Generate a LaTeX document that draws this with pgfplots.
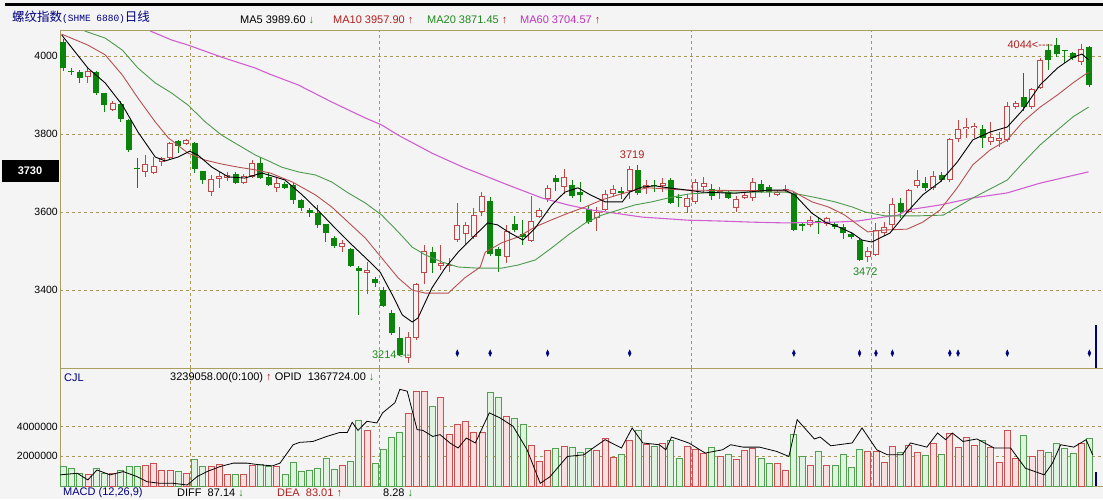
\documentclass[border=0pt]{standalone}
\usepackage{pgfplots}
\pgfplotsset{compat=1.18}
\usepackage{pgfplotstable}
\usepackage{fontspec}
\setmainfont{Liberation Sans}
\newfontfamily\cjk{Noto Sans CJK SC}
\newfontfamily\mono{Liberation Mono}

\definecolor{bgc}{HTML}{F4F4F4}
\definecolor{frame}{HTML}{A8A060}
\definecolor{gridc}{HTML}{A89858}
\definecolor{upred}{HTML}{C04848}
\definecolor{dngreen}{HTML}{0B840B}
\definecolor{vred}{HTML}{C85050}
\definecolor{vredf}{HTML}{F9E0E0}
\definecolor{vgreen}{HTML}{50A050}
\definecolor{vgreenf}{HTML}{E0F2E0}
\definecolor{maten}{HTML}{B85050}
\definecolor{matwenty}{HTML}{4C9A4C}
\definecolor{masixty}{HTML}{D060D0}
\definecolor{navy}{HTML}{000080}
\definecolor{txtred}{HTML}{B02020}
\definecolor{txtgreen}{HTML}{208A20}
\definecolor{txtmag}{HTML}{C030C0}

% up candles: i open high low close volume(M)
\pgfplotstableread{
i o h l c v
3 3945 3968 3930 3962 0.75
6 3862 3884 3860 3879 0.86
10 3703 3746 3690 3722 1.38
11 3701 3741 3697 3718 1.54
12 3729 3741 3718 3738 1.08
13 3738 3779 3736 3776 1.08
15 3775 3788 3772 3785 0.86
18 3650 3695 3642 3685 1.31
19 3685 3703 3662 3693 1.46
20 3688 3703 3680 3695 0.75
22 3674 3698 3672 3693 0.75
23 3691 3733 3687 3725 1.38
26 3662 3691 3651 3674 1.31
34 3509 3528 3498 3520 1.42
37 3443 3471 3389 3451 3.73
42 3225 3293 3214 3280 4.86
43 3276 3418 3272 3415 6.35
44 3443 3515 3415 3500 6.40
46 3462 3515 3452 3468 5.94
47 3462 3482 3447 3465 3.46
48 3528 3622 3524 3567 4.18
49 3543 3575 3515 3567 4.32
50 3537 3610 3532 3592 3.64
51 3599 3651 3590 3642 3.64
54 3485 3567 3468 3551 4.70
57 3526 3642 3524 3577 2.73
58 3588 3610 3584 3605 1.65
59 3633 3669 3626 3662 2.37
61 3665 3710 3647 3691 2.67
65 3584 3613 3551 3601 2.37
66 3605 3656 3603 3647 3.23
67 3645 3669 3641 3659 1.92
69 3654 3719 3633 3710 3.05
71 3662 3682 3645 3669 2.78
73 3667 3687 3650 3674 2.89
76 3614 3646 3597 3635 2.67
77 3626 3685 3621 3676 2.44
78 3665 3690 3650 3674 2.21
80 3653 3664 3633 3655 1.99
82 3611 3641 3601 3633 1.76
83 3637 3651 3633 3644 2.37
84 3635 3687 3629 3678 2.51
87 3644 3656 3642 3652 1.54
88 3657 3669 3652 3659 1.08
91 3567 3590 3562 3580 1.42
93 3568 3587 3564 3584 1.38
98 3484 3510 3472 3500 2.33
99 3490 3571 3487 3554 2.33
100 3545 3575 3538 3562 1.60
101 3567 3636 3554 3620 2.67
103 3599 3660 3597 3656 2.73
104 3667 3708 3661 3682 2.28
106 3662 3705 3656 3693 2.89
108 3682 3790 3677 3787 3.57
109 3787 3836 3779 3813 2.60
110 3813 3840 3790 3819 3.28
111 3815 3827 3790 3821 2.73
113 3779 3830 3772 3793 2.60
114 3782 3805 3767 3791 1.60
115 3785 3882 3780 3873 3.73
116 3870 3885 3865 3879 1.83
118 3870 3918 3865 3915 1.99
119 3919 3994 3915 3990 2.37
124 3984 4030 3977 4018 2.89
}\upc

% down candles
\pgfplotstableread{
i o h l c v
0 4037 4044 3962 3969 1.31
1 3962 3968 3950 3958 1.20
2 3960 3964 3931 3944 0.86
4 3960 3962 3900 3904 1.20
5 3904 3906 3857 3874 0.86
7 3876 3884 3832 3838 1.08
8 3836 3838 3755 3759 1.31
9 3713 3738 3661 3709 1.31
14 3782 3785 3751 3770 1.00
16 3776 3779 3700 3710 1.76
17 3705 3706 3672 3682 1.31
21 3697 3703 3672 3674 0.75
24 3725 3741 3684 3686 1.46
25 3691 3703 3667 3669 1.31
27 3671 3677 3659 3662 0.75
28 3669 3674 3621 3631 1.60
29 3631 3633 3603 3611 1.00
30 3605 3610 3587 3597 1.08
31 3597 3617 3560 3566 1.20
32 3568 3570 3524 3545 1.83
33 3534 3538 3507 3514 1.15
35 3505 3508 3459 3462 1.65
36 3456 3462 3336 3449 4.41
38 3428 3433 3408 3417 1.54
39 3400 3408 3356 3360 2.44
40 3340 3348 3284 3289 3.28
41 3276 3305 3230 3233 3.64
45 3498 3510 3443 3468 5.38
52 3628 3638 3487 3492 6.28
53 3505 3511 3447 3488 5.94
55 3568 3590 3549 3554 4.54
56 3543 3580 3515 3537 4.18
60 3688 3695 3654 3676 2.51
62 3669 3682 3636 3642 2.60
63 3650 3677 3626 3644 2.28
64 3608 3618 3569 3575 2.51
68 3654 3664 3633 3648 2.10
70 3708 3721 3644 3648 3.73
72 3670 3682 3650 3668 2.67
74 3682 3687 3621 3622 3.05
75 3638 3646 3613 3636 1.83
79 3659 3672 3632 3642 2.60
81 3650 3654 3633 3637 2.10
85 3671 3682 3648 3652 1.83
86 3665 3669 3639 3650 1.54
89 3648 3652 3551 3554 3.46
90 3568 3575 3551 3563 1.99
92 3577 3587 3544 3574 2.33
94 3569 3574 3556 3562 1.38
95 3562 3569 3531 3545 2.10
96 3543 3549 3531 3535 1.24
97 3528 3533 3474 3477 2.44
102 3622 3636 3584 3599 2.28
105 3674 3690 3653 3662 2.06
107 3695 3703 3677 3682 2.14
112 3813 3823 3765 3789 3.05
117 3896 3956 3860 3870 3.41
120 4015 4030 3964 3990 2.28
121 4028 4047 3998 4004 2.89
122 4015 4016 3982 4013 2.55
123 4007 4010 3990 3996 2.21
125 4024 4026 3920 3926 3.18
}\dnc

\pgfplotsset{
  panel/.style={
    scale only axis, width=1043pt,
    xmin=-0.4, xmax=126.66,
    axis line style={draw=frame, line width=1pt},
    major tick length=0pt,
    xtick={15.5,38.5,76.5,98.5}, xticklabels={},
    xmajorgrids, ymajorgrids,
    grid style={draw=gridc, line width=0.8pt, dash pattern=on 3pt off 3pt},
    axis background/.style={fill=bgc},
    tick label style={font=\fontsize{10.5}{12}\selectfont},
    yticklabel style={inner sep=2pt},
    /pgf/number format/assume math mode=true,
    /pgf/number format/1000 sep={},
  },
  wick/.style={draw=none, mark=none, forget plot,
    error bars/.cd, y dir=both, y explicit, error mark=none,
    error bar style={draw=#1, line width=1pt}},
  body/.style={draw=none, mark=none, forget plot,
    error bars/.cd, y dir=both, y explicit, error mark=none,
    error bar style={draw=#1, line width=6pt, line cap=butt}},
  hollow/.style={draw=none, mark=none, forget plot,
    error bars/.cd, y dir=both, y explicit, error mark=none,
    error bar style={draw=bgc, line width=4pt, line cap=butt}},
}

\begin{document}
\begin{tikzpicture}
\useasboundingbox (0pt,0pt) rectangle (1103pt,499pt);
\fill[bgc] (0pt,0pt) rectangle (1103pt,499pt);
\draw[black, line width=3pt] (5pt,494.5pt) -- (1103pt,494.5pt);

% ---------- price panel ----------
\begin{axis}[panel,
  at={(60pt,131pt)}, anchor=south west, height=337pt,
  ymin=3200, ymax=4064.1, ytick={3400,3600,3800,4000}]
  \addplot[wick=upred] table[x=i, y=c,
    y error plus expr=\thisrow{h}-\thisrow{c},
    y error minus expr=\thisrow{c}-\thisrow{l}] {\upc};
  \addplot[wick=dngreen] table[x=i, y=c,
    y error plus expr=\thisrow{h}-\thisrow{c},
    y error minus expr=\thisrow{c}-\thisrow{l}] {\dnc};
  \addplot[body=dngreen] table[x=i, y=c,
    y error plus expr=\thisrow{o}-\thisrow{c},
    y error minus expr=0] {\dnc};
  \addplot[body=upred] table[x=i, y=c,
    y error plus expr=0,
    y error minus expr=\thisrow{c}-\thisrow{o}] {\upc};
  \addplot[hollow] table[x=i, y expr=\thisrow{c}-2.6,
    y error plus expr=0,
    y error minus expr={max(\thisrow{c}-\thisrow{o}-5.2,0)}] {\upc};

  % MA60
  \addplot[masixty, line width=1.1pt] table {
x y
10.6 4064
13.2 4041
15.2 4028
19.3 3997
23.4 3969
25.2 3953
28.6 3926
32.7 3882
36.8 3841
38.8 3823
40.8 3797
44.9 3751
48.9 3713
50.5 3700
54.2 3669
58.3 3636
61.5 3618
64.4 3605
67.2 3597
70.5 3587
76.1 3579
79.8 3577
83.9 3574
87.9 3572
94.0 3574
96.8 3577
99.3 3585
101.7 3592
102.8 3605
106.8 3618
110.8 3636
115.0 3649
119.0 3674
124.9 3703
};
  % MA20
  \addplot[matwenty, line width=0.9pt] table {
x y
2.6 4064
5.1 4046
7.2 4015
9.1 3969
11.2 3931
13.2 3905
15.2 3874
17.3 3831
19.3 3797
21.3 3772
23.4 3746
25.0 3731
26.6 3715
28.6 3703
30.7 3695
32.7 3677
34.7 3649
36.8 3623
38.8 3592
40.8 3549
42.5 3510
44.1 3490
46.1 3472
48.1 3459
50.5 3456
53.4 3456
55.4 3464
57.5 3477
59.5 3508
61.5 3541
63.6 3572
65.6 3592
67.6 3605
69.6 3618
71.7 3626
73.7 3636
76.1 3646
79.8 3651
87.9 3651
90.0 3644
91.9 3636
94.0 3626
96.1 3613
97.7 3600
100.1 3590
104.0 3590
107.2 3592
110.8 3636
115.0 3682
116.9 3726
119.0 3772
121.1 3810
123.0 3844
124.9 3869
};
  % MA10
  \addplot[maten, line width=0.9pt] table {
x y
-0.2 4056
3.0 4028
5.1 4003
7.2 3951
9.1 3892
11.2 3831
12.8 3790
15.2 3751
17.3 3733
19.3 3723
21.3 3715
23.4 3708
25.2 3700
27.9 3677
30.7 3644
32.7 3613
34.7 3574
36.8 3533
38.8 3482
40.8 3431
42.5 3400
44.1 3392
46.9 3392
48.9 3431
50.8 3459
51.4 3497
53.4 3521
55.4 3536
57.5 3562
59.5 3580
61.5 3597
63.6 3613
65.6 3631
67.6 3644
69.3 3654
71.2 3662
73.7 3659
76.1 3656
88.8 3654
91.2 3626
93.2 3613
95.2 3592
96.8 3567
98.0 3549
100.1 3554
102.8 3556
104.7 3574
106.8 3605
108.9 3662
110.8 3721
112.9 3759
115.0 3785
116.9 3831
119.0 3869
121.1 3900
123.0 3931
124.9 3959
};
  % MA5
  \addplot[black, line width=0.9pt] table {
x y
-0.2 4054
3.0 3969
5.1 3931
7.2 3874
9.1 3805
11.2 3741
12.4 3731
14.0 3741
15.4 3756
16.4 3746
18.1 3715
20.1 3690
22.1 3687
24.2 3700
25.8 3690
27.0 3682
29.1 3644
31.0 3605
33.1 3559
35.2 3515
37.1 3477
38.6 3446
40.1 3387
41.3 3336
42.5 3318
43.2 3328
44.9 3405
46.5 3456
48.1 3497
49.8 3533
51.7 3572
52.9 3567
54.2 3549
56.0 3528
57.5 3559
59.5 3618
61.1 3651
62.7 3662
64.2 3644
66.0 3626
68.1 3626
69.0 3651
70.5 3664
72.1 3667
73.7 3662
76.1 3656
77.8 3651
81.8 3648
85.9 3656
87.9 3656
89.1 3644
91.2 3597
92.8 3574
94.4 3562
96.1 3546
97.3 3528
98.5 3523
100.7 3546
102.8 3600
104.7 3644
106.8 3677
108.9 3728
110.8 3785
112.9 3805
115.0 3818
116.9 3862
119.0 3926
121.1 3969
123.0 3997
124.1 4005
124.9 3990
};
  % signal marks
  \addplot[only marks, mark=diamond*, mark size=2.6pt, navy,
    mark options={xscale=0.75, yscale=1.25}] table {
x y
48 3238
52 3238
59 3238
69 3238
89 3238
97 3238
99 3238
101 3238
108 3238
109 3238
115 3238
125 3238
};
  \draw[navy, line width=1.6pt] (axis cs:125.8,3200) -- (axis cs:125.8,3310);
  \node[txtgreen, anchor=east, inner sep=0pt, font=\fontsize{11}{12}\selectfont]
    at (axis cs:42.3,3233) {3214<{-}{-}};
  \node[txtred, inner sep=0pt, font=\fontsize{11}{12}\selectfont]
    at (axis cs:69.3,3747) {3719};
  \node[txtgreen, inner sep=0pt, font=\fontsize{11}{12}\selectfont]
    at (axis cs:97.7,3447) {3472};
  \node[txtred, anchor=east, inner sep=0pt, font=\fontsize{11}{12}\selectfont]
    at (axis cs:120.6,4028) {4044<{-}{-}{-}{-}};
\end{axis}

% ---------- volume panel ----------
\begin{axis}[panel,
  at={(60pt,13pt)}, anchor=south west, height=118pt,
  ymin=0, ymax=7.95, ytick={2,4}, yticklabels={2000000,4000000}]
  \addplot[ybar, bar width=6pt, bar shift=0pt, draw=vred, fill=vredf,
    line width=0.8pt] table[x=i, y=v] {\upc};
  \addplot[ybar, bar width=6pt, bar shift=0pt, draw=vgreen, fill=vgreenf,
    line width=0.8pt] table[x=i, y=v] {\dnc};
  % open interest
  \addplot[black, line width=0.8pt] table {
x y
-0.4 0.75
1.7 0.86
3.0 0.41
4.1 1.08
5.7 0.75
7.3 0.97
9.0 0.63
10.2 0.29
11.8 0.18
13.4 0.18
15.1 0.07
16.3 0.63
17.5 0.97
19.1 1.31
20.7 1.54
22.4 1.54
24.0 1.42
25.5 1.36
26.4 1.54
28.0 2.78
28.8 2.94
30.4 3.00
32.1 3.34
33.7 3.61
34.6 3.61
35.2 4.29
35.9 3.75
37.0 4.36
38.2 4.25
38.9 4.93
40.4 5.61
41.0 6.51
41.9 6.39
43.1 3.80
43.8 3.75
45.0 3.34
45.9 3.46
47.1 2.90
48.1 2.56
49.1 3.23
50.2 2.90
51.9 4.93
53.2 4.59
54.8 4.02
56.5 2.44
58.1 0.18
59.3 0.63
61.4 1.99
63.4 2.10
64.7 2.62
66.0 3.12
68.0 2.56
69.3 3.91
70.6 2.90
72.6 2.78
73.4 2.44
74.1 3.30
76.2 2.90
78.2 2.22
80.3 2.44
81.3 2.78
82.8 2.62
84.8 2.62
86.9 2.33
88.4 1.99
89.4 4.47
91.5 3.17
92.2 3.30
93.5 2.71
96.1 2.90
97.3 3.91
99.1 2.44
100.4 2.10
102.2 2.10
103.2 2.90
105.2 2.62
106.5 3.57
107.5 3.12
108.3 3.57
109.6 3.00
111.3 3.17
113.4 2.56
115.4 2.56
117.2 1.20
119.5 0.75
120.5 1.54
121.5 2.78
123.1 2.62
124.6 3.12
125.4 2.10
};
  \draw[navy, line width=1.6pt] (axis cs:125.8,0) -- (axis cs:125.8,0.95);
\end{axis}

% ---------- header texts ----------
\node[anchor=west, inner sep=0pt, text=navy] at (12pt,482pt)
  {{\cjk\fontsize{12.5}{14}\selectfont 螺纹指数}{\mono\fontsize{9.5}{11}\selectfont(SHME 6880)}{\cjk\fontsize{12.5}{14}\selectfont 日线}};
\begin{scope}[every node/.style={anchor=west, inner sep=0pt,
    font=\fontsize{11}{12}\selectfont}]
  \node at (240pt,479pt) {MA5 3989.60 \textcolor{txtgreen}{↓}};
  \node[text=txtred] at (333pt,479pt) {MA10 3957.90 ↑};
  \node[text=txtgreen] at (427pt,479pt) {MA20 3871.45 \textcolor{txtred}{↑}};
  \node[text=txtmag] at (520pt,479pt) {MA60 3704.57 \textcolor{txtred}{↑}};
  \node[text=navy] at (64pt,121pt) {CJL};
  \node at (170pt,121pt) {3239058.00(0:100) \textcolor{txtred}{↑} OPID\ \ 1367724.00 \textcolor{txtgreen}{↓}};
  \node[text=navy] at (63pt,6pt) {MACD (12,26,9)};
  \node at (177pt,6pt) {DIFF\ \ 87.14 \textcolor{txtgreen}{↓}};
  \node[text=txtred] at (277pt,6pt) {DEA\ \ 83.01 ↑};
  \node at (383pt,6pt) {8.28 \textcolor{txtgreen}{↓}};
\end{scope}
\fill[black] (2pt,317pt) rectangle (59pt,339pt);
\node[white, font=\bfseries\fontsize{11}{12}\selectfont] at (30pt,328pt) {3730};
\end{tikzpicture}
\end{document}
